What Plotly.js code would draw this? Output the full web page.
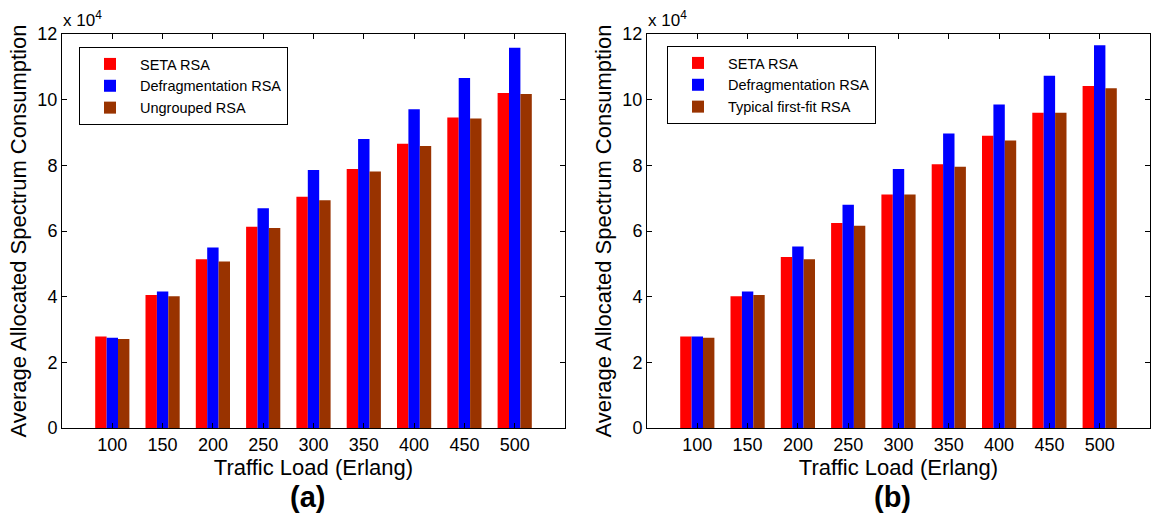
<!DOCTYPE html>
<html>
<head>
<meta charset="utf-8">
<script src="https://cdn.plot.ly/plotly-3.0.1.min.js"></script>
<style>html,body{margin:0;padding:0;background:#fff;}#chart{width:1153px;height:520px;}</style>
</head>
<body>
<div id="chart"></div>
<script>
// Data (values in units of spectrum slots; axis shows x 10^4)
const loads = [100, 150, 200, 250, 300, 350, 400, 450, 500];
const seriesNamesA = ["SETA RSA", "Defragmentation RSA", "Ungrouped RSA"];
const seriesNamesB = ["SETA RSA", "Defragmentation RSA", "Typical first-fit RSA"];
const setaA      = [27900, 40500, 51400, 61300, 70400, 78900, 86600, 94600, 102000];
const defragA    = [27500, 41600, 55000, 66900, 78600, 88000, 97100, 106600, 115800];
const ungroupedA = [27100, 40100, 50700, 60900, 69400, 78100, 85900, 94300, 101700];
const setaB      = [27900, 40100, 52100, 62400, 71100, 80300, 89000, 96000, 104200];
const defragB    = [27900, 41600, 55300, 68000, 78900, 89700, 98500, 107300, 116600];
const typicalB   = [27500, 40500, 51400, 61600, 71100, 79600, 87600, 96000, 103500];
const yTickVals = [0, 20000, 40000, 60000, 80000, 100000, 120000];
const yTickText = ["0", "2", "4", "6", "8", "10", "12"];
const colors = ["#ff0000", "#0000ff", "#993300"];

const FONT = "Arial, 'Liberation Sans', Helvetica, sans-serif";

function mk(y, name, color, xa, ya, leg) {
  return {type: "bar", x: loads, y: y, name: name, xaxis: xa, yaxis: ya, legend: leg,
          marker: {color: color, line: {width: 0}}};
}
const traces = [
  mk(setaA, seriesNamesA[0], colors[0], "x", "y", "legend"),
  mk(defragA, seriesNamesA[1], colors[1], "x", "y", "legend"),
  mk(ungroupedA, seriesNamesA[2], colors[2], "x", "y", "legend"),
  mk(setaB, seriesNamesB[0], colors[0], "x2", "y2", "legend2"),
  mk(defragB, seriesNamesB[1], colors[1], "x2", "y2", "legend2"),
  mk(typicalB, seriesNamesB[2], colors[2], "x2", "y2", "legend2")
];

const W = 1153, H = 520;
const yDom = [1 - 428 / H, 1 - 34 / H];
function xax(dom) {
  return {domain: dom, range: [50, 550], tickvals: loads, ticktext: loads.map(String),
          ticks: "inside", ticklen: 5, tickcolor: "#000", showline: true, linecolor: "#000",
          linewidth: 1, mirror: "ticks", showgrid: false, zeroline: false,
          tickfont: {family: FONT, size: 18, color: "#000"},
          title: {text: "Traffic Load (Erlang)", font: {family: FONT, size: 22, color: "#000"}, standoff: 3}};
}
function yax(anchor) {
  return {domain: yDom, anchor: anchor, range: [0, 120000], tickvals: yTickVals, ticktext: yTickText,
          ticks: "inside", ticklen: 5, tickcolor: "#000", showline: true, linecolor: "#000",
          linewidth: 1, mirror: "ticks", showgrid: false, zeroline: false,
          tickfont: {family: FONT, size: 18, color: "#000"},
          title: {text: "Average Allocated Spectrum Consumption", font: {family: FONT, size: 22, color: "#000"}, standoff: 4}};
}
function leg(xpx, ypx) {
  return {x: xpx / W, y: 1 - ypx / H, xanchor: "left", yanchor: "top", bgcolor: "#fff",
          bordercolor: "#000", borderwidth: 1, font: {family: FONT, size: 14.5, color: "#000"},
          tracegroupgap: 0, itemwidth: 50};
}
const layout = {
  width: W, height: H, margin: {l: 0, r: 0, t: 0, b: 0},
  paper_bgcolor: "#fff", plot_bgcolor: "#fff",
  barmode: "group", bargap: 0.32, bargroupgap: 0,
  font: {family: FONT, color: "#000"},
  xaxis: Object.assign(xax([62 / W, 565 / W]), {anchor: "y"}),
  yaxis: yax("x"),
  xaxis2: Object.assign(xax([647 / W, 1150 / W]), {anchor: "y2"}),
  yaxis2: yax("x2"),
  legend: leg(79, 47),
  legend2: leg(667, 46),
  annotations: [
    {xref: "paper", yref: "paper", x: 61 / W, y: 1 - 32 / H, xanchor: "left", yanchor: "bottom",
     text: "x 10<sup>4</sup>", showarrow: false, font: {family: FONT, size: 17, color: "#000"}},
    {xref: "paper", yref: "paper", x: 646 / W, y: 1 - 32 / H, xanchor: "left", yanchor: "bottom",
     text: "x 10<sup>4</sup>", showarrow: false, font: {family: FONT, size: 17, color: "#000"}},
    {xref: "paper", yref: "paper", x: 307 / W, y: 1 - 497 / H, xanchor: "center", yanchor: "middle",
     text: "<b>(a)</b>", showarrow: false, font: {family: FONT, size: 29, color: "#000"}},
    {xref: "paper", yref: "paper", x: 892 / W, y: 1 - 497 / H, xanchor: "center", yanchor: "middle",
     text: "<b>(b)</b>", showarrow: false, font: {family: FONT, size: 29, color: "#000"}}
  ],
  showlegend: true
};
Plotly.newPlot("chart", traces, layout, {staticPlot: true, displayModeBar: false});
</script>
</body>
</html>
